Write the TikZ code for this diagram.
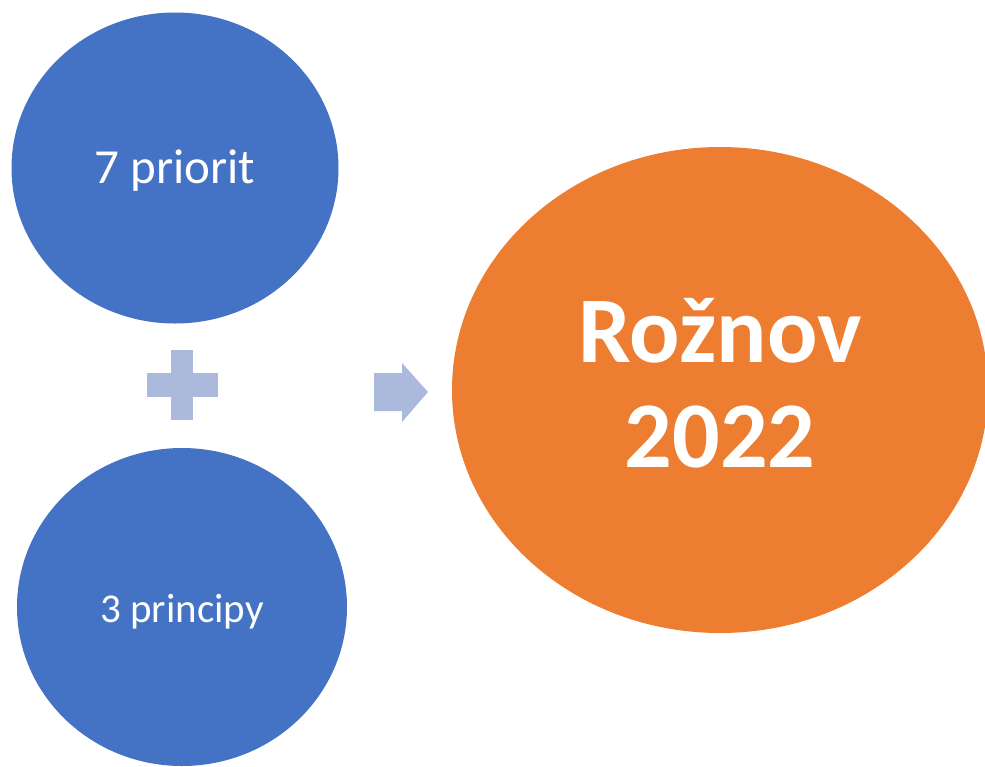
\documentclass[tikz,border=0pt]{standalone}
\usepackage{fontspec}
\setmainfont{Carlito}
\usepackage{xcolor}
\usetikzlibrary{shapes.geometric,positioning,calc}
\definecolor{acc-bl}{RGB}{68,114,196}
\definecolor{acc-or}{RGB}{237,125,49}
\definecolor{acc-li}{RGB}{171,185,221}
\tikzstyle{blob}=[ellipse,inner sep=0pt,text=white,align=center]
\tikzstyle{small}=[blob,fill=acc-bl,text height=30pt,text depth=0pt]
\tikzstyle{big}=[blob,fill=acc-or]
\tikzstyle{bigtext}=[text=white,align=center,font=\bfseries\fontsize{94}{105}\selectfont]
\tikzstyle{pale}=[fill=acc-li]

\begin{document}
\begin{tikzpicture}[x=1pt,y=-1pt]
  \useasboundingbox (0,0) rectangle (985,766);

  % Inputs
  \node [small,minimum width=327pt,minimum height=311pt,font=\fontsize{49}{59}\selectfont] (pri) at (175,168) {7 priorit};
  \node [small,minimum width=330pt,minimum height=318pt,font=\fontsize{41}{49}\selectfont] (prin) at (182,607) {3 principy};

  % Result
  \node [big,minimum width=536pt,minimum height=486pt,label={[bigtext,yshift=7pt]center:Rožnov\\2022}] (roz) at (720,390) {};

  % Plus
  \coordinate (plus) at (182,385);
  \fill [pale,shift={(plus)}] (-35,-12) rectangle (36,12);
  \fill [pale,shift={(plus)}] (-11,-35) rectangle (11,35);

  % Arrow
  \coordinate (arr) at (374,392);
  \fill [pale,shift={(arr)}] (0,-19) -- (28,-19) -- (28,-29) -- (54,0) -- (28,30) -- (28,19) -- (0,19) -- cycle;
\end{tikzpicture}
\end{document}
